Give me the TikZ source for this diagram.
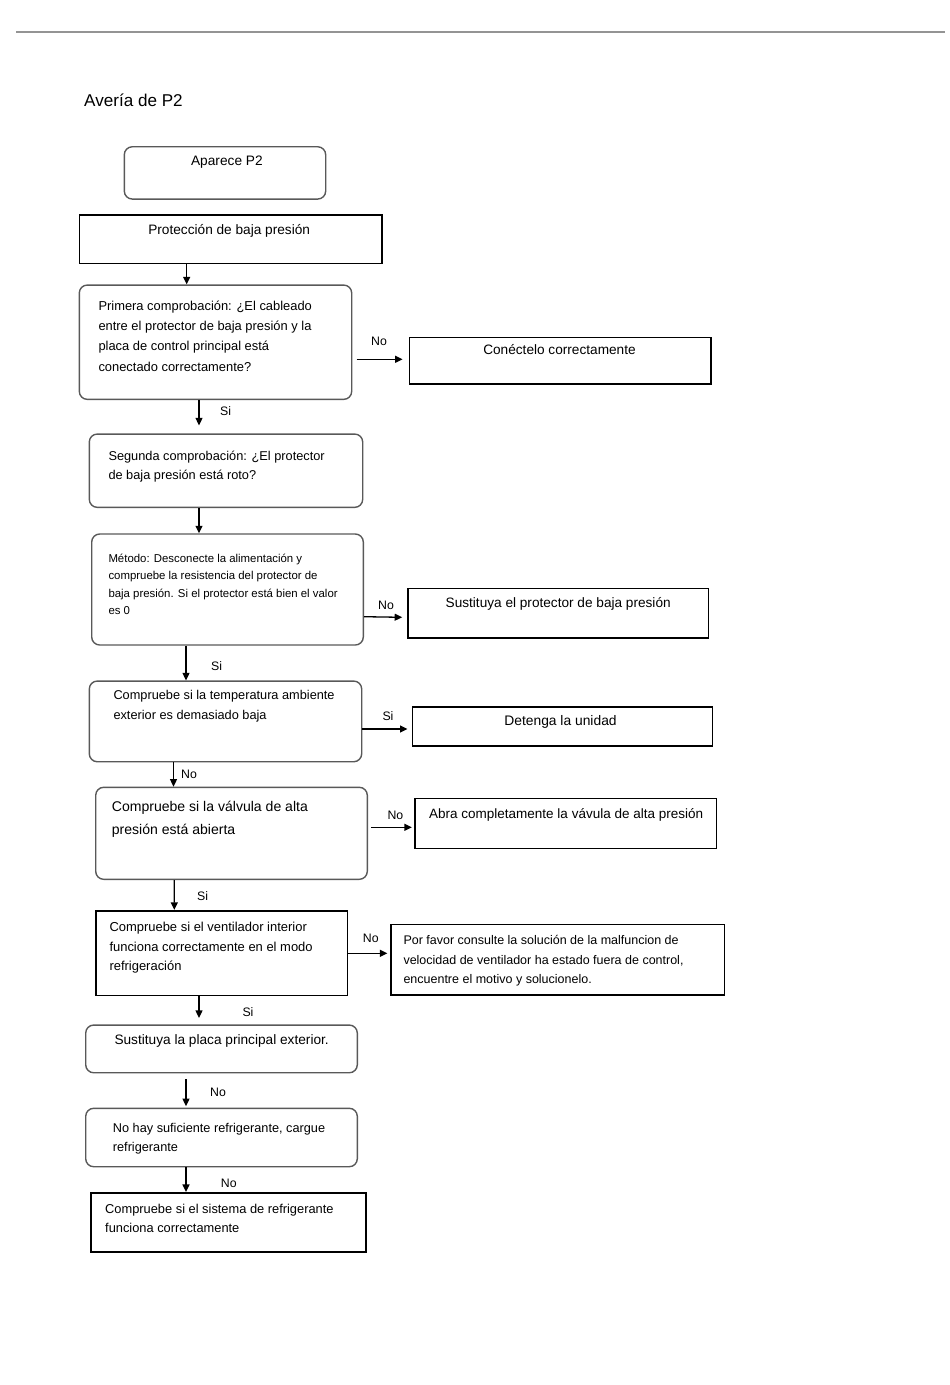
\documentclass[tikz,border=0pt]{standalone}
\usepackage{fontspec}
\setmainfont{Liberation Sans}
\usetikzlibrary{arrows.meta,calc}
\tikzset{
  rbox/.style={draw=black!65, line width=1.4pt, rounded corners=8pt, inner sep=0pt},
  sbox/.style={draw=black, line width=1.6pt, inner sep=0pt},
  arr/.style={line width=1.3pt, -{Triangle[length=7.5pt,width=7pt]}},
  txt/.style={inner sep=0pt, anchor=base west},
  ctxt/.style={inner sep=0pt, anchor=base},
  lbl/.style={inner sep=0pt, anchor=base west, font=\fontsize{12.3}{14}\selectfont},
}
\newcommand\fs[1]{\fontsize{#1}{#1}\selectfont}
\begin{document}
\begin{tikzpicture}[x=1pt,y=-1pt]
\useasboundingbox (0,0) rectangle (950,1385);
% top rule
\draw[black!42, line width=2pt] (16,31.7) coordinate (r1) -- (945,31.7) coordinate (r2);
\node[txt, font=\fs{17.1}] (title) at (84,106) {Avería de P2};

% boxes
\node[rbox, minimum width=201.4pt, minimum height=52.3pt] (b1) at (225,172.9) {};
\node[sbox, minimum width=302.4pt, minimum height=48.3pt] (b2) at (230.5,239.2) {};
\node[rbox, minimum width=272.4pt, minimum height=114.3pt] (b3) at (215.5,342.2) {};
\node[sbox, minimum width=301.4pt, minimum height=46.7pt] (b4) at (560,360.7) {};
\node[rbox, minimum width=273.4pt, minimum height=73.3pt] (b5) at (226,470.7) {};
\node[rbox, minimum width=271.6pt, minimum height=111pt] (b6) at (227.5,589.5) {};
\node[sbox, minimum width=300.6pt, minimum height=49.4pt] (b7) at (558,613) {};
\node[rbox, minimum width=272.4pt, minimum height=80.7pt] (b8) at (225.5,721.4) {};
\node[sbox, minimum width=300pt, minimum height=39.3pt] (b9) at (562.3,726.4) {};
\node[rbox, minimum width=271.6pt, minimum height=92pt] (b10) at (231.5,833.3) {};
\node[sbox, minimum width=301.7pt, minimum height=50pt] (b11) at (565.8,823.3) {};
\node[sbox, minimum width=251.6pt, minimum height=84.6pt] (b12) at (221.5,953) {};
\node[sbox, minimum width=333.6pt, minimum height=70.7pt] (b13) at (557.5,959.7) {};
\node[rbox, minimum width=271.6pt, minimum height=47.7pt] (b14) at (221.5,1048.9) {};
\node[rbox, minimum width=271.6pt, minimum height=58.4pt] (b15) at (221.5,1137.5) {};
\node[sbox, minimum width=275.3pt, minimum height=59pt] (b16) at (228.4,1222.2) {};

% texts
\node[ctxt, font=\fs{13.7}] (t1) at (226.9,165) {Aparece P2};
\node[ctxt, font=\fs{13.66}] (t2) at (229.2,234) {Protección de baja presión};
\node[txt, font=\fs{12.9}] (t3a) at (98.3,310) {Primera comprobación: ¿El cableado};
\node[txt, font=\fs{12.9}] (t3b) at (98.3,330.5) {entre el protector de baja presión y la};
\node[txt, font=\fs{12.9}] (t3c) at (98.3,350.5) {placa de control principal está};
\node[txt, font=\fs{12.9}] (t3d) at (98.3,371) {conectado correctamente?};
\node[ctxt, font=\fs{13.64}] (t4) at (559.5,354.3) {Conéctelo correctamente};
\node[txt, font=\fs{12.77}] (t5a) at (108.3,460.5) {Segunda comprobación: ¿El protector};
\node[txt, font=\fs{12.77}] (t5b) at (108.3,479.5) {de baja presión está roto?};
\node[txt, font=\fs{11.4}] (t6a) at (108.3,562) {Método: Desconecte la alimentación y};
\node[txt, font=\fs{11.4}] (t6b) at (108.3,579.5) {compruebe la resistencia del protector de};
\node[txt, font=\fs{11.4}] (t6c) at (108.3,597) {baja presión. Si el protector está bien el valor};
\node[txt, font=\fs{11.4}] (t6d) at (108.3,614) {es 0};
\node[ctxt, font=\fs{13.63}] (t7) at (558.2,607) {Sustituya el protector de baja presión};
\node[txt, font=\fs{12.75}] (t8a) at (113.3,699.5) {Compruebe si la temperatura ambiente};
\node[txt, font=\fs{12.75}] (t8b) at (113.3,719) {exterior es demasiado baja};
\node[ctxt, font=\fs{13.84}] (t9) at (560.5,725) {Detenga la unidad};
\node[txt, font=\fs{14.05}] (t10a) at (111.7,811.5) {Compruebe si la válvula de alta};
\node[txt, font=\fs{14.05}] (t10b) at (111.7,834.5) {presión está abierta};
\node[txt, font=\fs{13.5}] (t11) at (429,818.3) {Abra completamente la vávula de alta presión};
\node[txt, font=\fs{12.96}] (t12a) at (109.3,931) {Compruebe si el ventilador interior};
\node[txt, font=\fs{12.96}] (t12b) at (109.3,951) {funciona correctamente en el modo};
\node[txt, font=\fs{12.96}] (t12c) at (109.3,970.5) {refrigeración};
\node[txt, font=\fs{12.5}] (t13a) at (403.3,944.5) {Por favor consulte la solución de la malfuncion de};
\node[txt, font=\fs{12.5}] (t13b) at (403.3,964.5) {velocidad de ventilador ha estado fuera de control,};
\node[txt, font=\fs{12.5}] (t13c) at (403.3,983.5) {encuentre el motivo y solucionelo.};
\node[txt, font=\fs{13.67}] (t14) at (114.3,1044) {Sustituya la placa principal exterior.};
\node[txt, font=\fs{12.73}] (t15a) at (112.7,1132) {No hay suficiente refrigerante, cargue};
\node[txt, font=\fs{12.73}] (t15b) at (112.7,1151.5) {refrigerante};
\node[txt, font=\fs{12.84}] (t16a) at (105,1213) {Compruebe si el sistema de refrigerante};
\node[txt, font=\fs{12.84}] (t16b) at (105,1232) {funciona correctamente};

% vertical connectors
\draw[arr] ($(b2.south)+(-43.8,0)$) -- ($(b3.north)+(-28.8,0)$);
\draw[arr] ($(b3.south)+(-16.5,0)$) -- ($(b5.north)+(-27,-8)$);
\draw[arr] ($(b5.south)+(-27,0)$) -- ($(b6.north)+(-28.5,0)$);
\draw[arr] ($(b6.south)+(-41.5,0)$) -- ($(b8.north)+(-39.5,0)$);
\draw[arr] ($(b8.south)+(-52,0)$) -- ($(b10.north)+(-58,0)$);
\draw[arr] ($(b10.south)+(-57.3,0)$) -- ($(b12.north)+(-47.2,0)$);
\draw[arr] ($(b12.south)+(-22.5,0)$) -- ($(b14.north)+(-22.5,-6.5)$);
\draw[arr] ($(b14.south)+(-35.5,5.6)$) -- ($(b15.north)+(-35.5,-1.5)$);
\draw[arr] ($(b15.south)+(-35.5,0)$) -- ($(b16.north)+(-42.4,0)$);

% horizontal connectors
\draw[arr] ($(b3.east)+(4.3,17.1)$) -- ($(b4.west)+(-6,-1.4)$);
\draw[arr] ($(b6.east)+(0,27.2)$) -- ($(b7.west)+(-4.7,4.3)$);
\draw[arr] ($(b8.east)+(0,7.6)$) -- ($(b9.west)+(-4,2.6)$);
\draw[arr] ($(b10.east)+(3.4,-6)$) -- ($(b11.west)+(-2.3,4)$);
\draw[arr] ($(b12.east)+(0,0.3)$) -- ($(b13.west)+(-2.5,-6.4)$);

% labels
\node[lbl] (l1) at (371,345) {No};
\node[lbl] (l2) at (220,415) {Si};
\node[lbl] (l3) at (378,609) {No};
\node[lbl] (l4) at (211,670) {Si};
\node[lbl] (l5) at (382.3,720) {Si};
\node[lbl] (l6) at (181,778) {No};
\node[lbl] (l7) at (387.3,819) {No};
\node[lbl] (l8) at (197,900) {Si};
\node[lbl] (l9) at (362.7,942.7) {No};
\node[lbl] (l10) at (242.3,1016.5) {Si};
\node[lbl] (l11) at (210,1096.7) {No};
\node[lbl] (l12) at (220.7,1187) {No};
\end{tikzpicture}
\end{document}
